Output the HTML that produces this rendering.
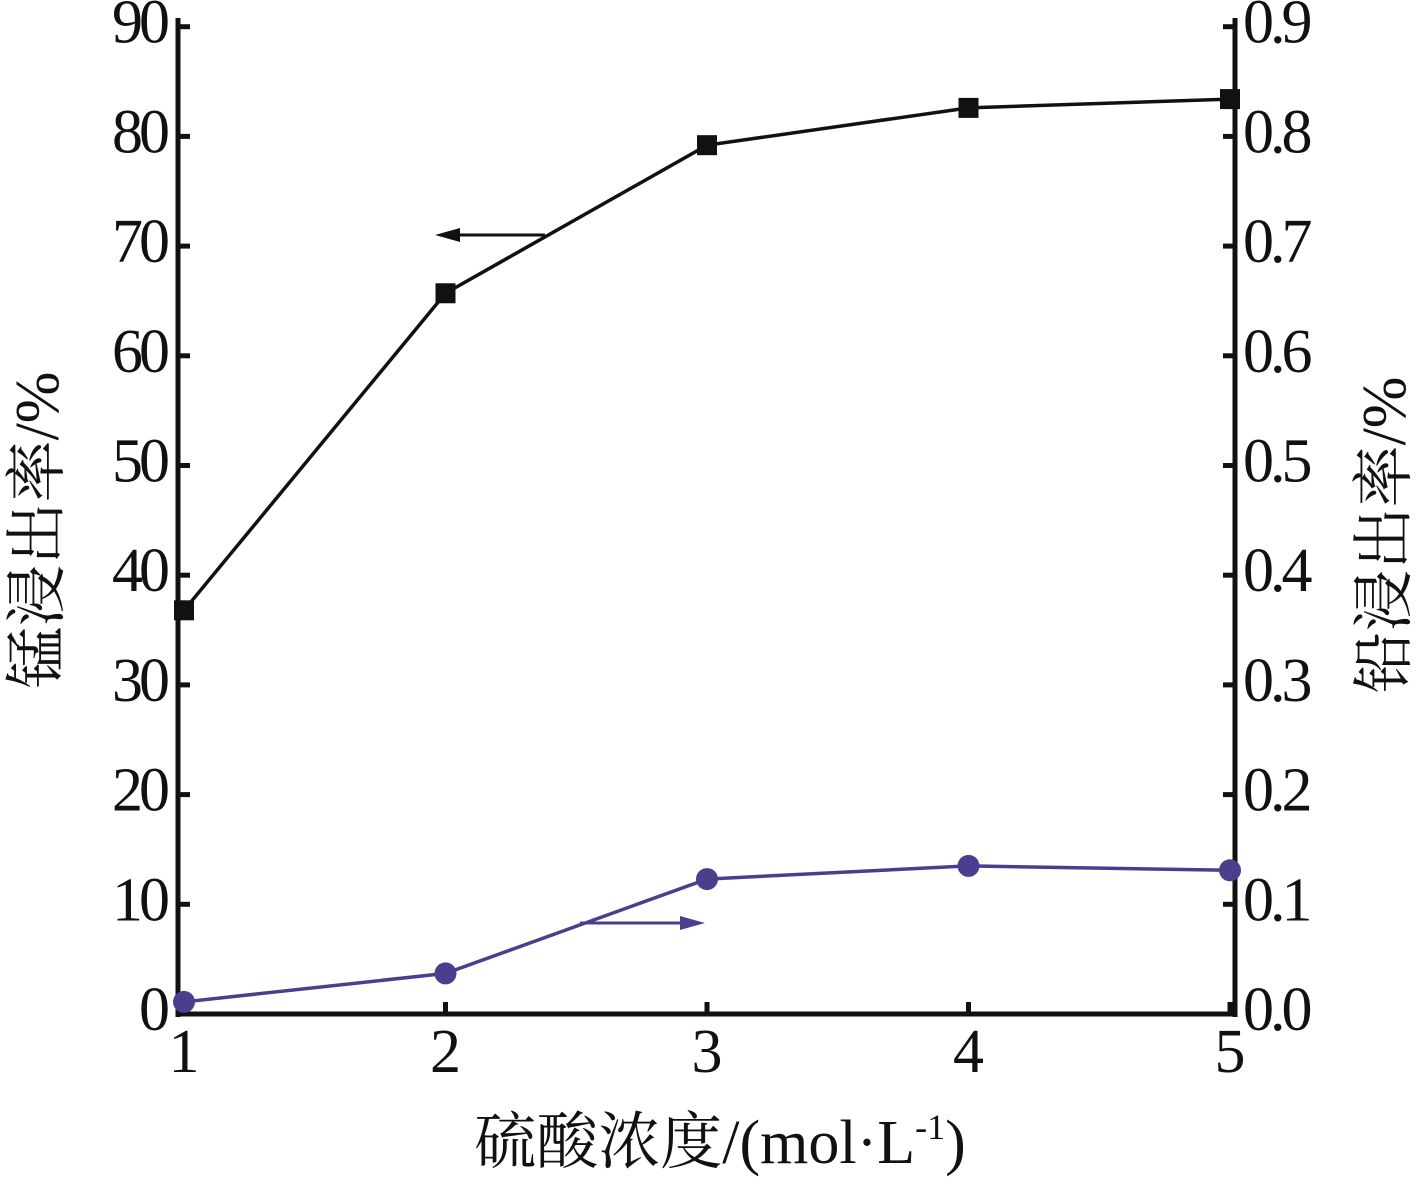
<!DOCTYPE html>
<html><head><meta charset="utf-8"><style>body{margin:0;background:#fff}</style></head><body>
<svg id="c" width="1417" height="1181" xmlns="http://www.w3.org/2000/svg" style="font-family:'Liberation Serif','Noto Serif CJK SC',serif"></svg>
<script>
const categories=[1,2,3,4,5];
const mnValues=[36.8,65.7,79.2,82.6,83.4];
const pbValues=[0.011,0.037,0.123,0.135,0.131];
const leftTicks=[0,10,20,30,40,50,60,70,80,90];
const rightTicks=["0.0","0.1","0.2","0.3","0.4","0.5","0.6","0.7","0.8","0.9"];
const svg=document.getElementById('c');const NS='http://www.w3.org/2000/svg';
const X0=178,X1=1235,Y0=1014,Y1=18;
function xs(v){return 184+(v-1)*261.5;}
function yl(v){return Y0-v*10.97;}
function yr(v){return Y0-v*1097;}
function mk(t,a,name,p){const e=document.createElementNS(NS,t);for(const k in a)e.setAttribute(k,a[k]);


(p||svg).appendChild(e);return e;}
mk('line',{x1:X0,y1:Y1,x2:X0,y2:Y0+3,stroke:'#111','stroke-width':5},'left-axis');
mk('line',{x1:X1,y1:Y1,x2:X1,y2:Y0+3,stroke:'#111','stroke-width':5},'right-axis');
mk('line',{x1:X0-2,y1:Y0,x2:X1+2,y2:Y0,stroke:'#111','stroke-width':5},'x-axis');
leftTicks.forEach((t,i)=>{const y=yl(t);
mk('line',{x1:X0,y1:y,x2:X0+12,y2:y,stroke:'#111','stroke-width':5},'left-tick');
mk('line',{x1:X1,y1:y,x2:X1-12,y2:y,stroke:'#111','stroke-width':5},'right-tick');
let e=mk('text',{x:X0-12,y:y+16,'text-anchor':'end','font-size':62,'letter-spacing':-4,fill:'#111'},'left-tick-label');e.textContent=t;
e=mk('text',{x:X1+8,y:y+16,'font-size':62,'letter-spacing':-4,fill:'#111'},'right-tick-label');e.textContent=rightTicks[i];});
categories.forEach(c=>{const x=xs(c);
mk('line',{x1:x,y1:Y0,x2:x,y2:Y0-12,stroke:'#111','stroke-width':5},'x-tick');
const e=mk('text',{x:x,y:1072,'text-anchor':'middle','font-size':62,fill:'#111'},'x-tick-label');e.textContent=c;});
mk('polyline',{points:categories.map((c,i)=>xs(c)+','+yl(mnValues[i])).join(' '),fill:'none',stroke:'#111','stroke-width':3.5},'mn-line');
categories.forEach((c,i)=>mk('rect',{x:xs(c)-10,y:yl(mnValues[i])-10,width:20,height:20,fill:'#111'},'mn-marker'));
mk('polyline',{points:categories.map((c,i)=>xs(c)+','+yr(pbValues[i])).join(' '),fill:'none',stroke:'#4a3f8c','stroke-width':3.5},'pb-line');
categories.forEach((c,i)=>mk('circle',{cx:xs(c),cy:yr(pbValues[i]),r:11,fill:'#4a3f8c'},'pb-marker'));
mk('line',{x1:545,y1:235,x2:450,y2:235,stroke:'#111','stroke-width':3},'mn-arrow');
mk('polygon',{points:'435,235 460,228 460,242',fill:'#111'},'mn-arrowhead');
mk('line',{x1:580,y1:923,x2:690,y2:923,stroke:'#4a3f8c','stroke-width':3},'pb-arrow');
mk('polygon',{points:'705,923 680,916 680,930',fill:'#4a3f8c'},'pb-arrowhead');
let e=mk('text',{x:0,y:0,'text-anchor':'middle','font-size':62,fill:'#111',transform:'translate(58,530) rotate(-90)'},'y-left-title');e.textContent='锰浸出率/%';
e=mk('text',{x:0,y:0,'text-anchor':'middle','font-size':62,fill:'#111',transform:'translate(1405,535) rotate(-90)'},'y-right-title');e.textContent='铅浸出率/%';
e=mk('text',{x:720,y:1163,'text-anchor':'middle','font-size':62,fill:'#111'},'x-title');
e.innerHTML='硫酸浓度/(mol·L<tspan font-size="36" dy="-24">-1</tspan><tspan dy="24">)</tspan>';
</script></body></html>
